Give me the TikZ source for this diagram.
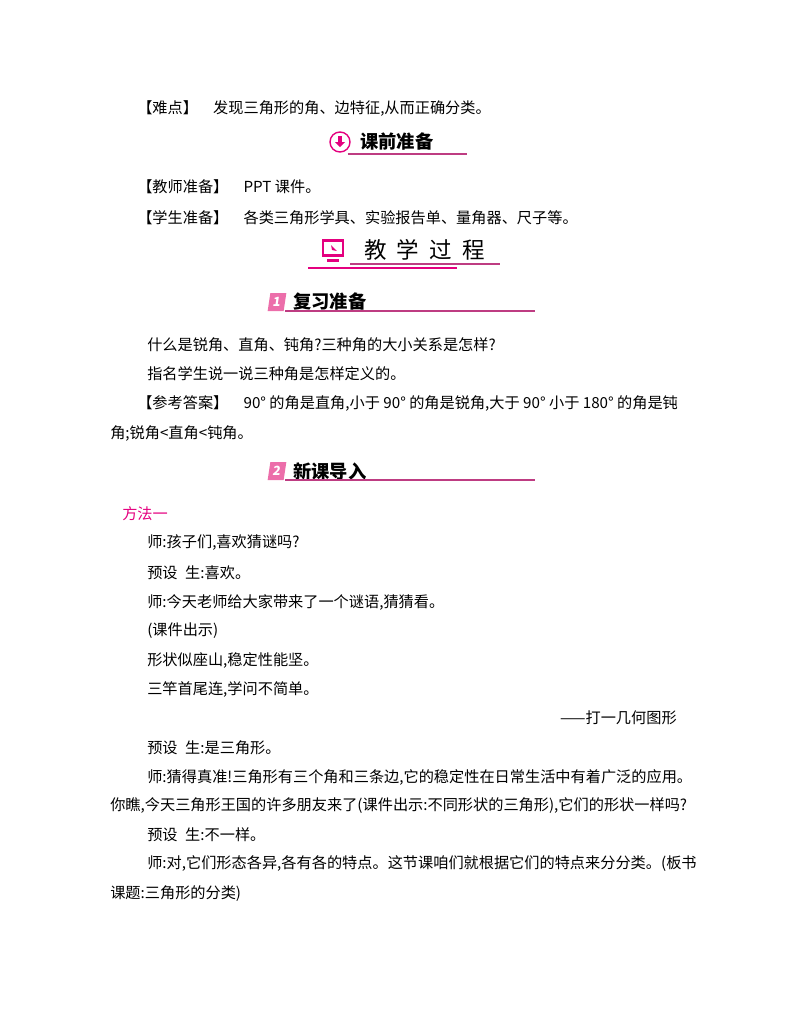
\documentclass[tikz,border=0pt]{standalone}
\usepackage{fontspec}
\setmainfont{Noto Sans CJK SC}
\usetikzlibrary{positioning, arrows.meta, calc}
\definecolor{PinkColor}{RGB}{228,0,127}
\definecolor{LineColor}{RGB}{190,60,130}
\definecolor{BadgeColor}{RGB}{236,110,170}

\begin{document}
\begin{tikzpicture}[x=0.025cm, y=-0.025cm,
            txt/.style={anchor=west, inner sep=0pt, font=\fontsize{10.8pt}{12pt}\selectfont},
            head/.style={anchor=west, inner sep=0pt, font=\fontsize{13pt}{14pt}\selectfont\bfseries},
            rule/.style={LineColor, line width=0.9pt},
            badge/.style={fill=BadgeColor, text=white, font=\bfseries\itshape\small, inner sep=0pt, minimum width=0.4cm, minimum height=0.45cm}
        ]
            \useasboundingbox (0,0) rectangle (800,1028);

            \node[txt] (hard) at (137,109) {【难点】\quad 发现三角形的角、边特征,从而正确分类。};

            % header: 课前准备
            \node[circle, draw=PinkColor, line width=1pt, minimum size=0.5cm, inner sep=0pt] (prepicon) at (340,142) {};
            \fill[PinkColor] ($(prepicon)+(-2,-6)$) rectangle ($(prepicon)+(2,0)$);
            \fill[PinkColor] ($(prepicon)+(-5,0)$) -- ($(prepicon)+(5,0)$) -- ($(prepicon)+(0,5)$) -- cycle;
            \node[head] (prep) at (360,142) {课前准备};
            \coordinate (prepend) at (467,154);
            \draw[rule] (prepicon.south east |- prepend) -- (prepend);

            \node[txt] (teacher) at (137,187) {【教师准备】\quad PPT 课件。};
            \node[txt] (student) at (137,218) {【学生准备】\quad 各类三角形学具、实验报告单、量角器、尺子等。};

            % header: 教学过程
            \node[draw=PinkColor, line width=2pt, minimum width=0.5cm, minimum height=0.38cm, inner sep=0pt] (screen) at (333,248) {};
            \fill[PinkColor] ($(screen.south)+(-6,2)$) rectangle ($(screen.south)+(6,5)$);
            \fill[PinkColor] ($(screen.center)+(-2,-3)$) -- ($(screen.center)+(4,3)$) -- ($(screen.center)+(-1,2)$) -- cycle;
            \node[anchor=west, inner sep=0pt, font=\fontsize{16pt}{18pt}\selectfont] (process) at (364,250) {教\hspace{0.45em}学\hspace{0.45em}过\hspace{0.45em}程};
            \coordinate (procA) at (350,264);
            \coordinate (procB) at (500,264);
            \coordinate (procC) at (308,268);
            \coordinate (procD) at (457,268);
            \draw[rule] (procA) -- (procB);
            \draw[PinkColor, line width=1.2pt] (procC) -- (procD);

            % section 1
            \node[badge, xslant=0.15] (one) at (277,302) {1};
            \node[head] (review) at (293,302) {复习准备};
            \coordinate (reviewend) at (535,311);
            \draw[rule] (one.east |- reviewend) -- (reviewend);

            \node[txt] (q1) at (147,345) {什么是锐角、直角、钝角?三种角的大小关系是怎样?};
            \node[txt] (q2) at (147,374) {指名学生说一说三种角是怎样定义的。};
            \node[txt] (ans) at (137,404) {【参考答案】\quad 90°\ 的角是直角,小于 90°\ 的角是锐角,大于 90°\ 小于 180°\ 的角是钝};
            \node[txt] (ans2) at (110,434) {角;锐角<直角<钝角。};

            % section 2
            \node[badge, xslant=0.15] (two) at (277,471) {2};
            \node[head] (intro) at (293,471) {新课导入};
            \coordinate (introend) at (535,480);
            \draw[rule] (two.east |- introend) -- (introend);

            \node[txt, text=PinkColor] (way) at (122,514) {方法一};
            \node[txt] (t1) at (147,543) {师:孩子们,喜欢猜谜吗?};
            \node[txt] (t2) at (147,573) {预设\enspace 生:喜欢。};
            \node[txt] (t3) at (147,602) {师:今天老师给大家带来了一个谜语,猜猜看。};
            \node[txt] (t4) at (147,631) {(课件出示)};
            \node[txt] (t5) at (147,660) {形状似座山,稳定性能坚。};
            \node[txt] (t6) at (147,689) {三竿首尾连,学问不简单。};
            \node[txt, anchor=east] (t7) at (677,718) {——打一几何图形};
            \node[txt] (t8) at (147,748) {预设\enspace 生:是三角形。};
            \node[txt] (t9) at (147,777) {师:猜得真准!三角形有三个角和三条边,它的稳定性在日常生活中有着广泛的应用。};
            \node[txt] (t10) at (110,806) {你瞧,今天三角形王国的许多朋友来了(课件出示:不同形状的三角形),它们的形状一样吗?};
            \node[txt] (t11) at (147,835) {预设\enspace 生:不一样。};
            \node[txt] (t12) at (147,864) {师:对,它们形态各异,各有各的特点。这节课咱们就根据它们的特点来分分类。(板书};
            \node[txt] (t13) at (110,894) {课题:三角形的分类)};
        \end{tikzpicture}
\end{document}
